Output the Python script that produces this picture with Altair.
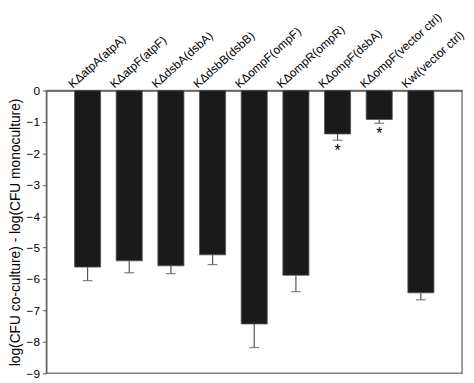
import altair as alt
import pandas as pd

strains = ["KΔatpA(atpA)", "KΔatpF(atpF)", "KΔdsbA(dsbA)", "KΔdsbB(dsbB)",
           "KΔompF(ompF)", "KΔompR(ompR)", "KΔompF(dsbA)", "KΔompF(vector ctrl)",
           "Kwt(vector ctrl)"]
values = [-5.62, -5.42, -5.58, -5.23, -7.43, -5.88, -1.38, -0.92, -6.44]
errors = [0.43, 0.38, 0.25, 0.31, 0.75, 0.52, 0.20, 0.12, 0.22]
marks = ["", "", "", "", "", "", "*", "*", ""]

df = pd.DataFrame({"strain": strains, "value": values, "err": errors, "mark": marks})
df["low"] = df["value"] - df["err"]
df["zero"] = 0.0

xscale = alt.Scale(domain=strains, paddingInner=0.374, paddingOuter=0.675)
xaxis = alt.Axis(orient="top", title=None, ticks=False, domain=True,
                 domainColor="#555555", domainWidth=1.2, labels=False)
yscale = alt.Scale(domain=[-9, 0], nice=False)
yaxis = alt.Axis(title="log(CFU co-culture) - log(CFU monoculture)",
                 values=list(range(0, -10, -1)), grid=False,
                 tickSize=4, tickColor="#555555", domainColor="#555555",
                 labelFontSize=12, labelColor="black", labelFont="Liberation Sans",
                 labelPadding=3, labelOverlap=False, labelBound=False,
                 titleFontSize=14, titleFontWeight="normal",
                 titleColor="black", titleFont="Liberation Sans", titlePadding=4)

x = alt.X("strain:N", scale=xscale, sort=strains, axis=xaxis)


def yenc(field):
    return alt.Y(field, scale=yscale, axis=yaxis)


base = alt.Chart(df)
bars = base.mark_bar(color="#1a1a1a", stroke="#555555", strokeWidth=0.8).encode(
    x=x, y=yenc("value:Q"))
rules = base.mark_rule(color="#555555", strokeWidth=1.2).encode(
    x=x, y=yenc("value:Q"), y2="low:Q")
caps = base.mark_tick(color="#555555", size=10, thickness=1.3).encode(
    x=x, y=yenc("low:Q"))
stars = base.mark_text(fontSize=16, dy=11, color="black", font="Liberation Sans").encode(
    x=x, y=yenc("low:Q"), text="mark:N")
labels = base.mark_text(angle=318, align="left", baseline="alphabetic", fontSize=12,
                        color="black", font="Liberation Sans",
                        xOffset=-15, yOffset=-2).encode(
    x=x, y=yenc("zero:Q"), text="strain:N")

chart = alt.layer(bars, rules, caps, stars, labels).properties(
    width=422, height=287, padding=0
).configure_view(stroke="#808080", strokeWidth=1.5)

chart.save("out.html", embed_options={"renderer": "svg", "actions": False})
